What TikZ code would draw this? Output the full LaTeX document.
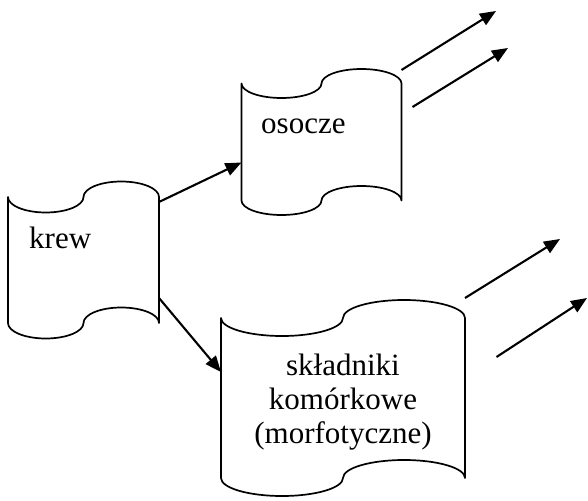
\documentclass[tikz,border=0pt]{standalone}
\usepackage{fontspec}
\setmainfont{Liberation Serif}
\usetikzlibrary{arrows.meta,calc}
\tikzset{
  tapebox/.style={rectangle,draw=none,inner sep=0pt,outer sep=0pt},
  boxline/.style={draw=black,line width=1.7pt,line join=round},
  flow/.style={line width=2.1pt,-{Triangle[length=16pt,width=13pt]}},
  lbl/.style={inner sep=0pt,font=\fontsize{31}{34}\selectfont,anchor=base west},
}
\newcommand\tapeoutline[2]{%
  \path[boxline] let \p1=(#1.north west), \p2=(#1.south east), \n1={(\x2-\x1)/4} in
    (\p1) arc[start angle=180,end angle=360,x radius=\n1,y radius=#2pt]
          arc[start angle=180,end angle=0,x radius=\n1,y radius=#2pt]
    -- (\p2) arc[start angle=0,end angle=180,x radius=\n1,y radius=#2pt]
             arc[start angle=0,end angle=-180,x radius=\n1,y radius=#2pt]
    -- cycle;}
\begin{document}
\begin{tikzpicture}[x=1pt,y=-1pt]
\useasboundingbox[fill=white] (0,0) rectangle (588,500);
% boxes
\node[tapebox,minimum width=151pt,minimum height=126pt] (krew) at (83.5,260) {};
\node[tapebox,minimum width=160pt,minimum height=117pt] (osocze) at (321.5,142) {};
\node[tapebox,minimum width=244pt,minimum height=160pt] (skl) at (343,398) {};
\tapeoutline{krew}{15.5}
\tapeoutline{osocze}{14.5}
\tapeoutline{skl}{18}
% texts
\node[lbl] (tkrew) at (29,248) {krew};
\node[lbl] (tosocze) at (261,133) {osocze};
\node[inner sep=0pt,font=\fontsize{31}{34}\selectfont,align=center,anchor=base] (tskl) at (343,443)
  {składniki\\komórkowe\\(morfotyczne)};
% connectors
\draw[flow] ([yshift=-5pt]krew.north east) -- ([yshift=-79pt]osocze.north west);
\draw[flow] ([yshift=25pt]krew.south east) -- ([yshift=-54pt]skl.north west);
% outgoing arrows
\coordinate (o1s) at (401.5,70);  \coordinate (o1e) at (496,11);
\coordinate (o2s) at (412.5,107); \coordinate (o2e) at (508,48);
\coordinate (s1s) at (465,298);   \coordinate (s1e) at (560,239);
\coordinate (s2s) at (496.5,357); \coordinate (s2e) at (587,298);
\draw[flow] (o1s) -- (o1e);
\draw[flow] (o2s) -- (o2e);
\draw[flow] (s1s) -- (s1e);
\draw[flow] (s2s) -- (s2e);
\end{tikzpicture}
\end{document}
